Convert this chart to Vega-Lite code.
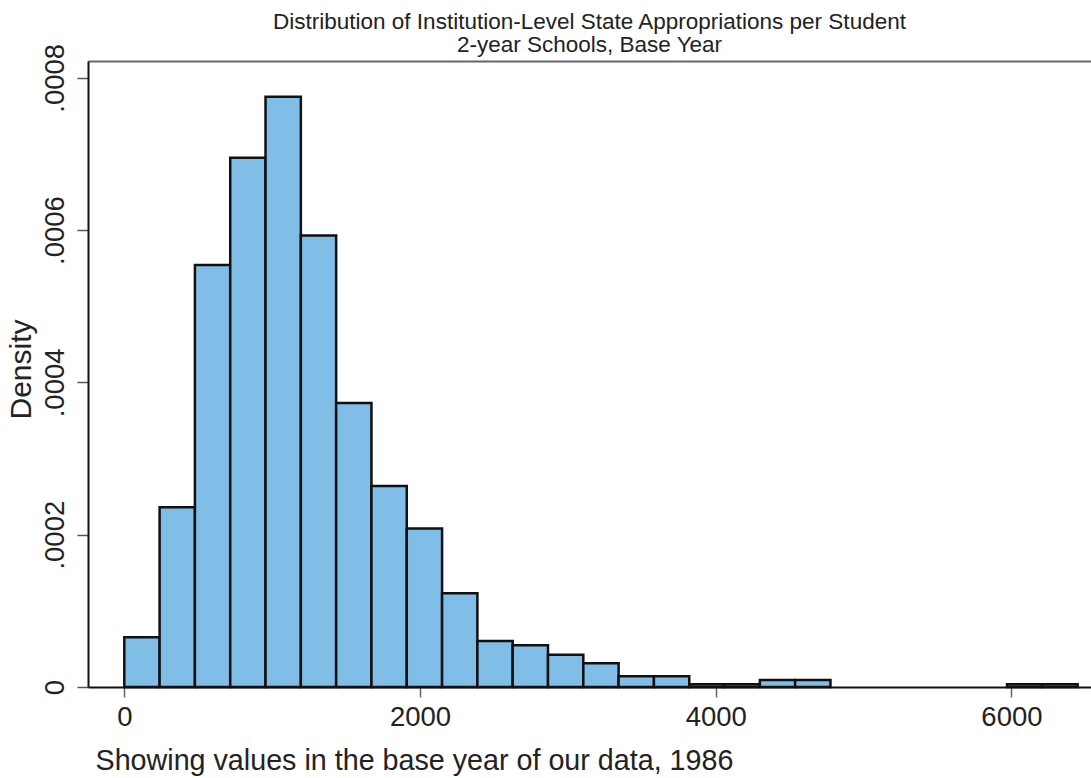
{
  "$schema": "https://vega.github.io/schema/vega-lite/v6.json",
  "width": 1003,
  "height": 626,
  "autosize": {"type": "none"},
  "padding": {"left": 88, "top": 61, "right": 0, "bottom": 91},
  "background": "white",
  "title": {
    "text": ["Distribution of Institution-Level State Appropriations per Student", "2-year Schools, Base Year"],
    "fontSize": 22.5,
    "font": "Liberation Sans",
    "fontWeight": "normal",
    "color": "#222222",
    "anchor": "middle",
    "lineHeight": 23,
    "offset": -13
  },
  "data": {"values": [
    {"bin_start": 0, "bin_end": 238.8, "density": 0.0000653},
    {"bin_start": 238.8, "bin_end": 477.6, "density": 0.000236},
    {"bin_start": 477.6, "bin_end": 716.4, "density": 0.000554},
    {"bin_start": 716.4, "bin_end": 955.2, "density": 0.000695},
    {"bin_start": 955.2, "bin_end": 1194, "density": 0.000775},
    {"bin_start": 1194, "bin_end": 1432.8, "density": 0.000593},
    {"bin_start": 1432.8, "bin_end": 1671.6, "density": 0.000373},
    {"bin_start": 1671.6, "bin_end": 1910.4, "density": 0.000264},
    {"bin_start": 1910.4, "bin_end": 2149.2, "density": 0.000208},
    {"bin_start": 2149.2, "bin_end": 2388, "density": 0.000123},
    {"bin_start": 2388, "bin_end": 2626.8, "density": 0.0000604},
    {"bin_start": 2626.8, "bin_end": 2865.6, "density": 0.0000548},
    {"bin_start": 2865.6, "bin_end": 3104.4, "density": 0.0000424},
    {"bin_start": 3104.4, "bin_end": 3343.2, "density": 0.0000311},
    {"bin_start": 3343.2, "bin_end": 3582, "density": 0.000014},
    {"bin_start": 3582, "bin_end": 3820.8, "density": 0.000014},
    {"bin_start": 3820.8, "bin_end": 4059.6, "density": 0.0000035},
    {"bin_start": 4059.6, "bin_end": 4298.4, "density": 0.0000035},
    {"bin_start": 4298.4, "bin_end": 4537.2, "density": 0.0000092},
    {"bin_start": 4537.2, "bin_end": 4776, "density": 0.0000092},
    {"bin_start": 5970, "bin_end": 6208.8, "density": 0.0000035},
    {"bin_start": 6208.8, "bin_end": 6447.6, "density": 0.0000035}
  ]},
  "layer": [
    {
      "mark": {"type": "rect", "fill": "#80BEE8", "stroke": "#111111", "strokeWidth": 2.5},
      "encoding": {
        "x": {
          "field": "bin_start",
          "type": "quantitative",
          "scale": {"domain": [-245.5, 6538], "nice": false, "zero": false},
          "axis": {
            "orient": "bottom",
            "values": [0, 2000, 4000, 6000],
            "format": "d",
            "title": "Showing values in the base year of our data, 1986",
            "titleAnchor": "start",
            "titleAlign": "left",
            "titleX": 7,
            "titleY": 82,
            "titleBaseline": "alphabetic",
            "titleFontSize": 28.7,
            "labelFontSize": 27.5,
            "labelPadding": 6,
            "tickSize": 10,
            "tickColor": "#666666",
            "tickWidth": 1.5,
            "domainColor": "#111111",
            "domainWidth": 2
          }
        },
        "x2": {"field": "bin_end"},
        "y": {
          "field": "density",
          "type": "quantitative",
          "scale": {"domain": [0, 0.000822], "nice": false},
          "axis": {
            "orient": "left",
            "values": [0, 0.0002, 0.0004, 0.0006, 0.0008],
            "labelExpr": "datum.value == 0 ? '0' : replace(format(datum.value, '.4f'), '0.', '.')",
            "title": "Density",
            "titleFontSize": 30,
            "titleX": -58,
            "titleY": 308,
            "titleAlign": "center",
            "titleBaseline": "alphabetic",
            "labelFontSize": 27.5,
            "labelAngle": 270,
            "labelAlign": "center",
            "labelBaseline": "alphabetic",
            "labelPadding": 14,
            "tickSize": 11,
            "tickColor": "#555555",
            "tickWidth": 1.5,
            "domainColor": "#111111",
            "domainWidth": 2
          }
        },
        "y2": {"datum": 0}
      }
    },
    {
      "mark": {"type": "point", "opacity": 0},
      "encoding": {
        "x": {
          "field": "bin_start",
          "type": "quantitative",
          "axis": {
            "orient": "top",
            "labels": false,
            "ticks": false,
            "title": null,
            "domainColor": "#666666",
            "domainWidth": 2
          }
        }
      }
    }
  ],
  "config": {
    "font": "Liberation Sans",
    "view": {"stroke": null},
    "axis": {"grid": false, "labelColor": "#222222", "titleColor": "#222222", "titleFontWeight": "normal", "labelFlush": false, "labelOverlap": false}
  }
}
